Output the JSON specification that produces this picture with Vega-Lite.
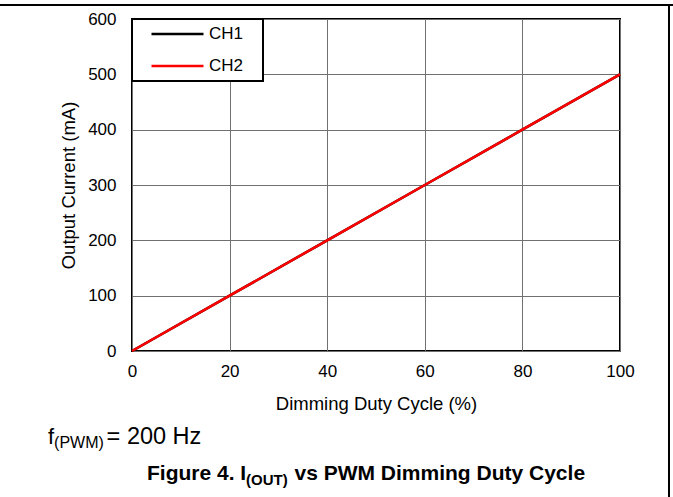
{
  "$schema": "https://vega.github.io/schema/vega-lite/v6.json",
  "width": 488,
  "height": 332,
  "autosize": {"type": "none"},
  "padding": {"left": 132, "top": 19, "right": 53, "bottom": 146},
  "background": "white",
  "data": {"values": [{"note": "annotation"}]},
  "config": {
    "font": "Liberation Sans",
    "view": {"stroke": "black", "strokeWidth": 2},
    "legend": {"strokeWidth": 2},
    "axis": {
      "domain": false,
      "ticks": false,
      "grid": true,
      "gridColor": "#707070",
      "gridWidth": 1,
      "labelFlush": false,
      "labelFont": "Liberation Sans",
      "labelFontSize": 17,
      "labelFontWeight": "normal",
      "labelColor": "black",
      "titleFont": "Liberation Sans",
      "titleFontSize": 18.5,
      "titleFontWeight": "normal",
      "titleColor": "black"
    }
  },
  "datasets": {
    "curves": [
      {"duty": 0, "current": 0, "channel": "CH1"},
      {"duty": 20, "current": 100, "channel": "CH1"},
      {"duty": 40, "current": 200, "channel": "CH1"},
      {"duty": 60, "current": 300, "channel": "CH1"},
      {"duty": 80, "current": 400, "channel": "CH1"},
      {"duty": 100, "current": 500, "channel": "CH1"},
      {"duty": 0, "current": 0, "channel": "CH2"},
      {"duty": 20, "current": 100, "channel": "CH2"},
      {"duty": 40, "current": 200, "channel": "CH2"},
      {"duty": 60, "current": 300, "channel": "CH2"},
      {"duty": 80, "current": 400, "channel": "CH2"},
      {"duty": 100, "current": 500, "channel": "CH2"}
    ]
  },
  "layer": [
    {
      "data": {"name": "curves"},
      "mark": {"type": "line", "strokeWidth": 2.5},
      "encoding": {
        "x": {
          "field": "duty", "type": "quantitative",
          "scale": {"domain": [0, 100], "nice": false, "zero": false},
          "axis": {"values": [0, 20, 40, 60, 80, 100], "title": "Dimming Duty Cycle (%)", "labelPadding": 12, "titleY": 52, "titleBaseline": "middle"}
        },
        "y": {
          "field": "current", "type": "quantitative",
          "scale": {"domain": [0, 600], "nice": false, "zero": false},
          "axis": {"values": [0, 100, 200, 300, 400, 500, 600], "title": "Output Current (mA)", "labelPadding": 16, "titleX": -64, "titleY": 166, "titleAngle": -90, "titleAlign": "center", "titleBaseline": "middle"}
        },
        "color": {
          "field": "channel", "type": "nominal",
          "scale": {"domain": ["CH1", "CH2"], "range": ["#000000", "#ff0000"]},
          "legend": {
            "title": "M",
            "titleOrient": "right",
            "titleOpacity": 0,
            "titleFontSize": 10,
            "titlePadding": 4,
            "orient": "none",
            "legendX": 0,
            "legendY": 0,
            "symbolType": "stroke",
            "symbolSize": 2704,
            "symbolStrokeWidth": 2.5,
            "clipHeight": 16,
            "rowPadding": 15,
            "padding": 7,
            "symbolOffset": 11,
            "labelOffset": 4,
            "labelFontSize": 17,
            "labelColor": "black",
            "strokeColor": "black",
            "fillColor": "white"
          }
        }
      }
    },
    {
      "mark": {"type": "rule", "clip": false, "color": "black", "strokeWidth": 2},
      "encoding": {
        "x": {"datum": -27.05, "type": "quantitative"},
        "x2": {"datum": 110.9},
        "y": {"datum": 625.3, "type": "quantitative"}
      }
    },
    {
      "mark": {"type": "rule", "clip": false, "color": "black", "strokeWidth": 2},
      "encoding": {
        "x": {"datum": 110.04, "type": "quantitative"},
        "y": {"datum": 625.3, "type": "quantitative"},
        "y2": {"datum": -263.9}
      }
    },
    {
      "mark": {"type": "text", "clip": false, "align": "left", "baseline": "alphabetic", "fontSize": 22, "color": "black"},
      "encoding": {
        "x": {"datum": -17.21, "type": "quantitative"},
        "y": {"datum": -168.1, "type": "quantitative"},
        "text": {"value": "f"}
      }
    },
    {
      "mark": {"type": "text", "clip": false, "align": "left", "baseline": "alphabetic", "fontSize": 16, "color": "black"},
      "encoding": {
        "x": {"datum": -15.96, "type": "quantitative"},
        "y": {"datum": -175.3, "type": "quantitative"},
        "text": {"value": "(PWM)"}
      }
    },
    {
      "mark": {"type": "text", "clip": false, "align": "left", "baseline": "alphabetic", "fontSize": 23.5, "color": "black"},
      "encoding": {
        "x": {"datum": -5.2, "type": "quantitative"},
        "y": {"datum": -168.1, "type": "quantitative"},
        "text": {"value": "= 200 Hz"}
      }
    },
    {
      "mark": {"type": "text", "clip": false, "align": "left", "baseline": "alphabetic", "fontSize": 21, "fontWeight": "bold", "color": "black"},
      "encoding": {
        "x": {"datum": 3.07, "type": "quantitative"},
        "y": {"datum": -233.1, "type": "quantitative"},
        "text": {"value": "Figure 4. I"}
      }
    },
    {
      "mark": {"type": "text", "clip": false, "align": "left", "baseline": "alphabetic", "fontSize": 15, "fontWeight": "bold", "color": "black"},
      "encoding": {
        "x": {"datum": 23.36, "type": "quantitative"},
        "y": {"datum": -242.2, "type": "quantitative"},
        "text": {"value": "(OUT)"}
      }
    },
    {
      "mark": {"type": "text", "clip": false, "align": "left", "baseline": "alphabetic", "fontSize": 21, "fontWeight": "bold", "color": "black"},
      "encoding": {
        "x": {"datum": 33.3, "type": "quantitative"},
        "y": {"datum": -233.1, "type": "quantitative"},
        "text": {"value": "vs PWM Dimming Duty Cycle"}
      }
    }
  ]
}
